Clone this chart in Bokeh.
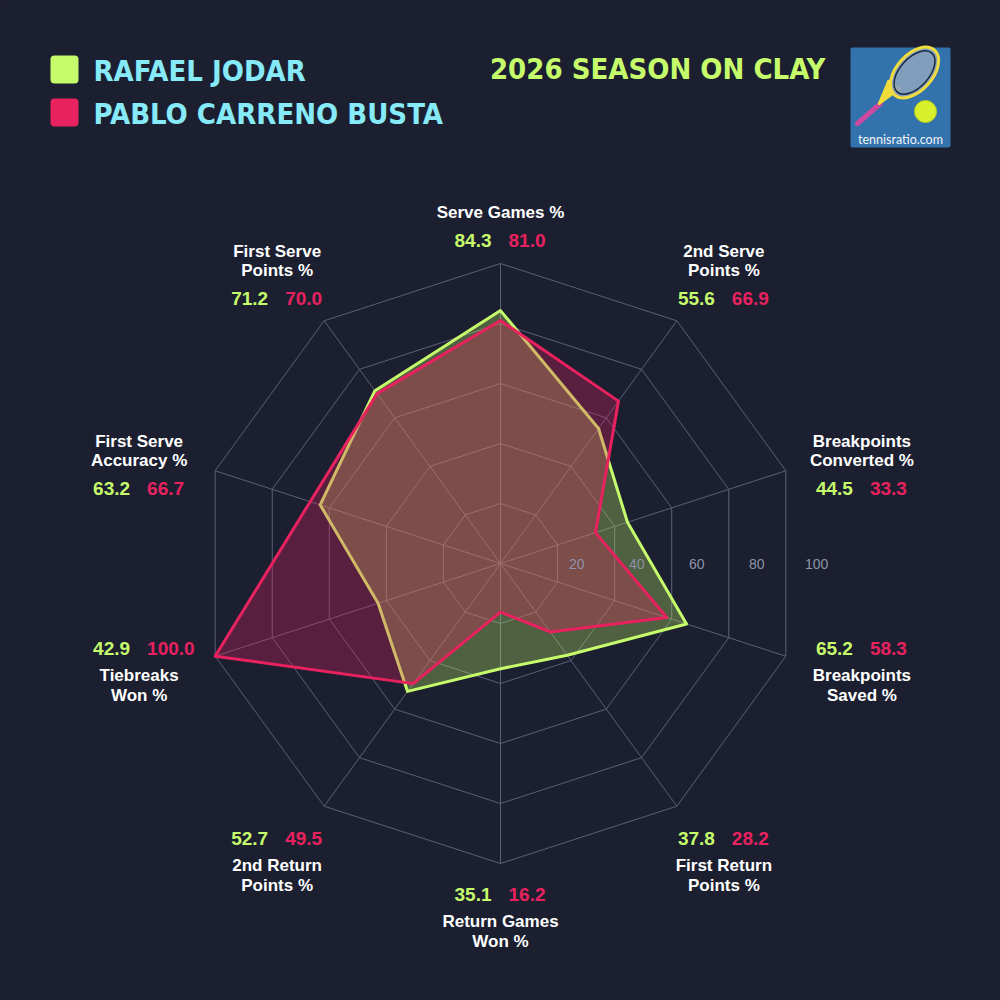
import math

from bokeh.core.properties import value
from bokeh.embed import file_html
from bokeh.models import Range1d
from bokeh.plotting import figure
from bokeh.resources import INLINE

# ---- data -------------------------------------------------------------
categories = [
    "Serve Games %",
    "2nd Serve\nPoints %",
    "Breakpoints\nConverted %",
    "Breakpoints\nSaved %",
    "First Return\nPoints %",
    "Return Games\nWon %",
    "2nd Return\nPoints %",
    "Tiebreaks\nWon %",
    "First Serve\nAccuracy %",
    "First Serve\nPoints %",
]
jodar = [84.3, 55.6, 44.5, 65.2, 37.8, 35.1, 52.7, 42.9, 63.2, 71.2]
carreno = [81.0, 66.9, 33.3, 58.3, 28.2, 16.2, 49.5, 100.0, 66.7, 70.0]
ring_levels = [20, 40, 60, 80, 100]
players = ["RAFAEL JODAR", "PABLO CARRENO BUSTA"]
title_text = "2026 SEASON ON CLAY"
site_text = "tennisratio.com"

# ---- style ------------------------------------------------------------
BG = "#1c1f30"
GREEN = "#c6fb6b"
PINK = "#e8215f"
CYAN = "#86eaf8"
GRID = "#5a5f78"
TICK = "#8e93a8"
WHITE = "#ffffff"
BODY_FONT = value("Liberation Sans")
HEAD_FONT = value("'DejaVu Sans Condensed', 'DejaVu Sans'")

# page geometry: radar centre and pixels per percent
PX = 3.0
CX, CY = 500, 563


def dx(px):
    return (px - CX) / PX


def dy(py):
    return (CY - py) / PX


n = len(categories)
angles = [2 * math.pi * i / n for i in range(n)]


def polar(r, a):
    return r * math.sin(a), r * math.cos(a)


p = figure(
    width=1000,
    height=1000,
    x_range=Range1d(dx(0), dx(1000)),
    y_range=Range1d(dy(1000), dy(0)),
    x_axis_type=None,
    y_axis_type=None,
    toolbar_location=None,
    output_backend="svg",
    min_border=0,
    outline_line_color=None,
    background_fill_color=BG,
    border_fill_color=BG,
)

# ---- grid -------------------------------------------------------------
ring_xs, ring_ys = [], []
for lvl in ring_levels:
    pts = [polar(lvl, a) for a in angles] + [polar(lvl, angles[0])]
    ring_xs.append([q[0] for q in pts])
    ring_ys.append([q[1] for q in pts])
p.multi_line(ring_xs, ring_ys, line_color=GRID, line_width=1)

spoke_ends = [polar(ring_levels[-1], a) for a in angles]
p.segment(x0=[0] * n, y0=[0] * n,
          x1=[q[0] for q in spoke_ends], y1=[q[1] for q in spoke_ends],
          line_color=GRID, line_width=1)

# ---- series -----------------------------------------------------------
for vals, col in ((jodar, GREEN), (carreno, PINK)):
    pts = [polar(v, a) for v, a in zip(vals, angles)]
    p.patch([q[0] for q in pts], [q[1] for q in pts],
            fill_color=col, fill_alpha=0.3,
            line_color=col, line_width=3, line_join="round")

# ring value labels
p.text(x=[lvl + 5.4 for lvl in ring_levels], y=[0] * len(ring_levels),
       text=[str(lvl) for lvl in ring_levels],
       text_color=TICK, text_font=BODY_FONT, text_font_size="14px",
       text_align="center", text_baseline="middle")

# ---- category labels and values --------------------------------------
R_LAB = 380  # px from centre
lab_x, lab_y, lab_t = [], [], []
gv_x, gv_y, gv_t = [], [], []
pv_x, pv_y, pv_t = [], [], []
for cat, a, g, k in zip(categories, angles, jodar, carreno):
    lines = cat.split("\n")
    ax = CX + R_LAB * math.sin(a)
    ay = CY - R_LAB * math.cos(a)
    c = math.cos(a)
    if abs(math.sin(a)) < 0.1 and c > 0:
        first, val_y = CY - 351, CY - 323
    elif abs(math.sin(a)) < 0.1:
        first, val_y = CY + 358, CY + 331
    elif c > 0:
        first, val_y = ay - 5, ay + 42
    else:
        first, val_y = ay - 5, ay - 32
    for j, ln in enumerate(lines):
        lab_x.append(dx(ax))
        lab_y.append(dy(first + 19.5 * j))
        lab_t.append(ln)
    gv_x.append(dx(ax - 9))
    gv_y.append(dy(val_y))
    gv_t.append(f"{g:.1f}")
    pv_x.append(dx(ax + 8))
    pv_y.append(dy(val_y))
    pv_t.append(f"{k:.1f}")

p.text(x=lab_x, y=lab_y, text=lab_t, text_color=WHITE, text_font=BODY_FONT,
       text_font_style="bold", text_font_size="17px",
       text_align="center", text_baseline="middle")
p.text(x=gv_x, y=gv_y, text=gv_t, text_color=GREEN, text_font=BODY_FONT,
       text_font_style="bold", text_font_size="19px",
       text_align="right", text_baseline="middle")
p.text(x=pv_x, y=pv_y, text=pv_t, text_color=PINK, text_font=BODY_FONT,
       text_font_style="bold", text_font_size="19px",
       text_align="left", text_baseline="middle")

# ---- legend header ----------------------------------------------------
sw_top = [55, 98]
p.quad(left=[dx(50)] * 2, right=[dx(78)] * 2,
       top=[dy(t) for t in sw_top], bottom=[dy(t + 28) for t in sw_top],
       fill_color=[GREEN, PINK], line_color=None, border_radius=4)
p.text(x=[dx(93)] * 2, y=[dy(t + 15) for t in sw_top], text=players,
       text_color=CYAN, text_font=HEAD_FONT, text_font_style="bold",
       text_font_size="29px", text_align="left", text_baseline="middle")

p.text(x=[dx(825)], y=[dy(68)], text=[title_text],
       text_color=GREEN, text_font=HEAD_FONT, text_font_style="bold",
       text_font_size="29px", text_align="right", text_baseline="middle")

# ---- site badge -------------------------------------------------------
p.quad(left=[dx(850)], right=[dx(950)], top=[dy(47)], bottom=[dy(147)],
       fill_color="#3273ad", line_color=None, border_radius=2)
p.line([dx(857), dx(880)], [dy(123), dy(103)], line_color="#c94a9e",
       line_width=5, line_cap="round")
p.patch([dx(878), dx(900), dx(888)], [dy(104), dy(88), dy(80)],
        fill_color="#f2dc3a", line_color="#f2dc3a", line_width=2)
p.ellipse(x=[dx(914)], y=[dy(72)], width=[60 / PX], height=[36 / PX],
          angle=[math.radians(48)], fill_color="#8aa3bf", fill_alpha=0.9,
          line_color="#f0dc3c", line_width=3)
p.ellipse(x=[dx(914)], y=[dy(72)], width=[52 / PX], height=[29 / PX],
          angle=[math.radians(48)], fill_color=None,
          line_color="#1d2a44", line_width=1.5)
p.scatter(x=[dx(925)], y=[dy(111)], size=22, marker="circle",
          fill_color="#d8f02c", line_color="#b8d020")
p.text(x=[dx(900)], y=[dy(139)], text=[site_text], text_color="#f2f4f8",
       text_font=value("Lato"), text_font_size="12.5px",
       text_align="center", text_baseline="middle")

html = file_html(p, INLINE, title="2026 Season on Clay")
html = html.replace(
    "<head>",
    "<head><style>html,body{margin:0;padding:0;background:#1c1f30;}</style>",
    1,
)
with open("out.html", "w") as fh:
    fh.write(html)
